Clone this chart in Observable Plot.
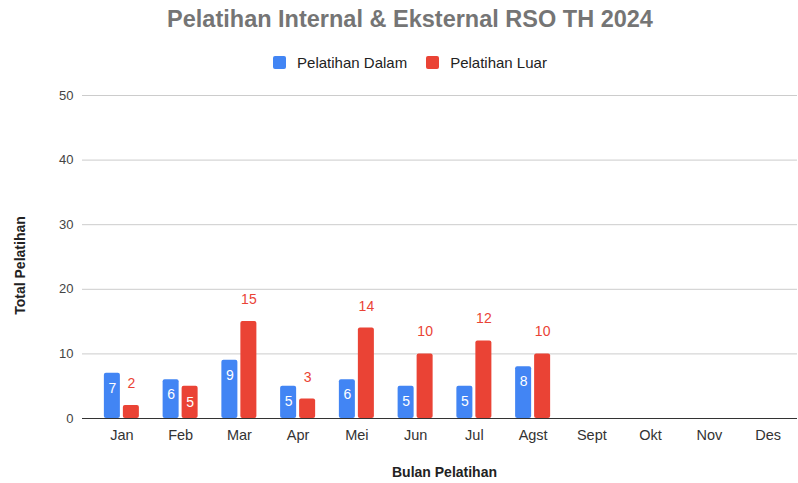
<!DOCTYPE html>
<html><head><meta charset="utf-8">
<script src="https://cdn.jsdelivr.net/npm/d3@7"></script>
<script src="https://cdn.jsdelivr.net/npm/@observablehq/plot@0.6"></script>
<style>
body{margin:0;background:#fff;width:798px;height:483px;overflow:hidden;position:relative;font-family:"Liberation Sans",Arial,sans-serif}
#title{position:absolute;left:11px;width:798px;top:4px;height:30px;line-height:30px;text-align:center;font-weight:bold;font-size:23.5px;color:#757575;white-space:nowrap}
#legend{position:absolute;left:11px;width:798px;top:52px;height:20px;display:flex;justify-content:center;align-items:center;font-size:15px;color:#222}
.item{display:flex;align-items:center}
.item + .item{margin-left:19px}
.sw{width:13px;height:13px;border-radius:2px;margin-right:11px}
#chart{position:absolute;left:0;top:80px}
</style>
</head><body>
<div id="title"></div>
<div id="legend"></div>
<div id="chart"></div>
<script>
const titleText = "Pelatihan Internal & Eksternal RSO TH 2024";
const months = ["Jan","Feb","Mar","Apr","Mei","Jun","Jul","Agst","Sept","Okt","Nov","Des"];
const dalam = [7,6,9,5,6,5,5,8];
const luar = [2,5,15,3,14,10,12,10];
const yTicks = [0,10,20,30,40,50];
const seriesNames = ["Pelatihan Dalam","Pelatihan Luar"];
const colors = ["#4285F4","#EA4335"];
const luarInside = ["Feb"];
const xTitle = "Bulan Pelatihan";
const yTitle = "Total Pelatihan";

document.getElementById("title").textContent = titleText;
const legend = document.getElementById("legend");
seriesNames.forEach((name,i)=>{
  const it = document.createElement("div"); it.className="item";
  const sw = document.createElement("div"); sw.className="sw"; sw.style.background=colors[i];
  const tx = document.createElement("span"); tx.textContent=name;
  it.appendChild(sw); it.appendChild(tx); legend.appendChild(it);
});

const dalamRows = dalam.map((v,i)=>({month:months[i], value:v}));
const luarRows = luar.map((v,i)=>({month:months[i], value:v}));
const luarAbove = luarRows.filter(d=>!luarInside.includes(d.month));
const luarIn = luarRows.filter(d=>luarInside.includes(d.month));
const font = "Liberation Sans, Arial, sans-serif";

const chart = Plot.plot({
  width:798, height:403,
  marginTop:15, marginBottom:65, marginLeft:82, marginRight:1,
  insetLeft:10,
  style:{fontFamily:font, fontSize:"13px", color:"#444", background:"white", overflow:"visible"},
  x:{domain:months, paddingInner:0.404, paddingOuter:0.202, round:false, axis:null},
  y:{domain:[0,50], ticks:yTicks, label:null, tickSize:0, tickPadding:9},
  marks:[
    Plot.ruleY(yTicks.filter(d=>d>0), {stroke:"#cccccc"}),
    Plot.barY(dalamRows, {x:"month", y:"value", fill:colors[0], insetRight:19, rx:2}),
    Plot.barY(luarRows, {x:"month", y:"value", fill:colors[1], insetLeft:19, rx:2}),
    Plot.ruleY([0], {stroke:"#333"}),
    Plot.text(months, {x:d=>d, text:d=>d, frameAnchor:"bottom", lineAnchor:"bottom", dy:21, fontSize:14.5, fill:"#333"}),
    Plot.text(dalamRows, {x:"month", y:"value", text:d=>String(d.value), dx:-9.5, dy:15, fill:"white", fontSize:14}),
    Plot.text(luarIn, {x:"month", y:"value", text:d=>String(d.value), dx:9.5, dy:16, fill:"white", fontSize:14}),
    Plot.text(luarAbove, {x:"month", y:"value", text:d=>String(d.value), dx:9.5, dy:-22, fill:colors[1], fontSize:14}),
    Plot.text([yTitle], {text:d=>d, frameAnchor:"left", textAnchor:"middle", lineAnchor:"middle", rotate:-90, dx:-62, dy:8.5, fontWeight:"bold", fontSize:14, fill:"#222"}),
    Plot.text([xTitle], {text:d=>d, frameAnchor:"bottom", textAnchor:"middle", lineAnchor:"middle", dx:4.5, dy:54, fontWeight:"bold", fontSize:14, fill:"#222"})
  ]
});
document.getElementById("chart").appendChild(chart);
</script>
</body></html>
